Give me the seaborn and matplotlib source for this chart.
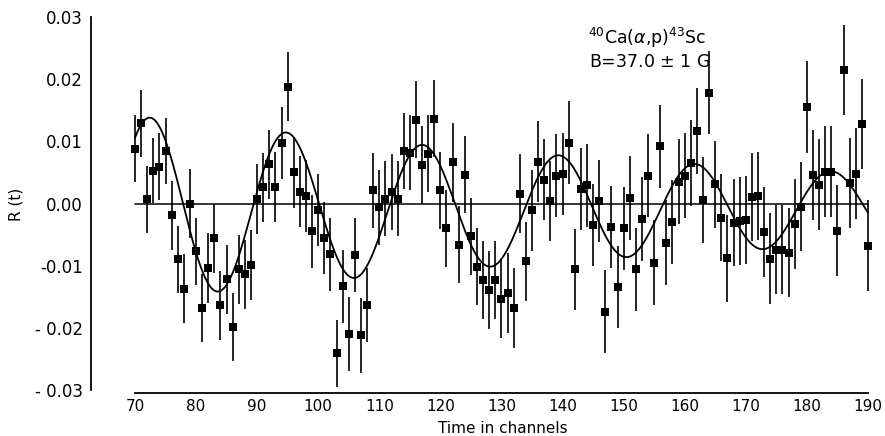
import numpy as np
import pandas as pd
import matplotlib
matplotlib.use("Agg")
import matplotlib.pyplot as plt
import seaborn as sns

# data
channels = list(range(70, 191))
r_values = [
    0.0088, 0.0129, 0.0007, 0.0053, 0.0059, 0.0084, -0.0019, -0.0090, -0.0137, 0.0000,
    -0.0077, -0.0168, -0.0104, -0.0056, -0.0164, -0.0122, -0.0199, -0.0106, -0.0114, -0.0099,
    0.0007, 0.0026, 0.0063, 0.0027, 0.0097, 0.0188, 0.0050, 0.0019, 0.0012, -0.0045,
    -0.0010, -0.0055, -0.0082, -0.0241, -0.0133, -0.0210, -0.0083, -0.0212, -0.0163, 0.0021,
    -0.0006, 0.0008, 0.0018, 0.0008, 0.0084, 0.0082, 0.0135, 0.0062, 0.0080, 0.0136,
    0.0021, -0.0040, 0.0066, -0.0066, 0.0046, -0.0053, -0.0102, -0.0123, -0.0139, -0.0123,
    -0.0153, -0.0144, -0.0168, 0.0016, -0.0093, -0.0011, 0.0067, 0.0038, 0.0004, 0.0045,
    0.0048, 0.0098, -0.0106, 0.0023, 0.0029, -0.0035, 0.0004, -0.0174, -0.0038, -0.0134,
    -0.0040, 0.0009, -0.0106, -0.0025, 0.0045, -0.0095, 0.0092, -0.0063, -0.0030, 0.0035,
    0.0045, 0.0065, 0.0117, 0.0006, 0.0178, 0.0031, -0.0023, -0.0088, -0.0031, -0.0028,
    -0.0026, 0.0011, 0.0012, -0.0046, -0.0089, -0.0074, -0.0074, -0.0079, -0.0033, -0.0005,
    0.0156, 0.0046, 0.0030, 0.0051, 0.0051, -0.0044, 0.0215, 0.0033, 0.0048, 0.0128, -0.0068,
]
r_errors = [
    0.0054, 0.0054, 0.0054, 0.0052, 0.0054, 0.0053, 0.0055, 0.0054, 0.0055, 0.0055,
    0.0054, 0.0054, 0.0056, 0.0056, 0.0055, 0.0056, 0.0055, 0.0056, 0.0056, 0.0056,
    0.0056, 0.0056, 0.0056, 0.0056, 0.0058, 0.0056, 0.0057, 0.0057, 0.0058, 0.0058,
    0.0058, 0.0058, 0.0059, 0.0054, 0.0059, 0.0060, 0.0060, 0.0060, 0.0060, 0.0060,
    0.0060, 0.0061, 0.0061, 0.0061, 0.0061, 0.0061, 0.0062, 0.0062, 0.0062, 0.0062,
    0.0062, 0.0062, 0.0063, 0.0062, 0.0062, 0.0062, 0.0062, 0.0062, 0.0063, 0.0063,
    0.0063, 0.0064, 0.0064, 0.0064, 0.0064, 0.0065, 0.0065, 0.0065, 0.0065, 0.0066,
    0.0066, 0.0067, 0.0065, 0.0066, 0.0066, 0.0066, 0.0066, 0.0067, 0.0066, 0.0066,
    0.0067, 0.0067, 0.0067, 0.0067, 0.0067, 0.0068, 0.0067, 0.0068, 0.0068, 0.0068,
    0.0069, 0.0069, 0.0069, 0.0069, 0.0067, 0.0070, 0.0070, 0.0070, 0.0070, 0.0071,
    0.0071, 0.0071, 0.0071, 0.0072, 0.0073, 0.0072, 0.0072, 0.0072, 0.0072, 0.0072,
    0.0074, 0.0073, 0.0073, 0.0073, 0.0073, 0.0073, 0.0072, 0.0073, 0.0073, 0.0073, 0.0073,
]

# fitted damped oscillation, parameters
fit_amplitude = 0.0149
fit_tau = 125.0
fit_period = 22.3
fit_peak = 72.5
fit_offset = -0.0008

df = pd.DataFrame({"channel": channels, "R": r_values, "err": r_errors})
t_fit = np.linspace(70, 190, 600)
fit = pd.DataFrame({
    "channel": t_fit,
    "R": fit_offset + fit_amplitude * np.exp(-(t_fit - 70) / fit_tau)
    * np.cos(2 * np.pi * (t_fit - fit_peak) / fit_period),
})

sns.set_style("white")
plt.rcParams["font.family"] = ["DejaVu Sans"]
plt.rcParams["text.color"] = "black"
plt.rcParams["axes.labelcolor"] = "black"
plt.rcParams["xtick.color"] = "black"
plt.rcParams["ytick.color"] = "black"

fig = plt.figure(figsize=(8.85, 4.36), dpi=100)
ax = fig.add_axes([91 / 885, 1 - 393 / 436, (871 - 91) / 885, (393 - 15) / 436])

ax.errorbar(df["channel"], df["R"], yerr=df["err"], fmt="none",
            ecolor="black", elinewidth=1.2, capsize=0, clip_on=False)
sns.scatterplot(data=df, x="channel", y="R", marker="s", s=34, color="black",
                edgecolor="black", linewidth=0, ax=ax, clip_on=False, zorder=3)
sns.lineplot(data=fit, x="channel", y="R", color="black", linewidth=1.3, ax=ax)
ax.plot([70, 190], [0, 0], color="black", linewidth=1.1)

ax.set_xlim(62.8, 190.5)
ax.set_ylim(-0.03048, 0.03032)

for side in ["top", "right"]:
    ax.spines[side].set_visible(False)
ax.spines["left"].set_bounds(-0.03, 0.03)
ax.spines["bottom"].set_bounds(70, 190)
for side in ["left", "bottom"]:
    ax.spines[side].set_linewidth(1.3)
    ax.spines[side].set_color("black")

ax.set_xticks(range(70, 191, 10))
ax.set_xticklabels([str(v) for v in range(70, 191, 10)], fontsize=11)
ax.set_yticks([0.03, 0.02, 0.01, 0.0, -0.01, -0.02, -0.03])
ax.set_yticklabels(["0.03", "0.02", "0.01", "0.00", "-0.01", "- 0.02", "- 0.03"], fontsize=12)
ax.tick_params(axis="both", direction="in", length=7, width=1.3, color="black")
ax.tick_params(axis="x", pad=4)
ax.tick_params(axis="y", pad=6)

ax.set_xlabel("Time in channels", fontsize=11, labelpad=4)
ax.xaxis.set_label_coords((503 - 91) / 780, -0.075)
ax.set_ylabel("R (t)", fontsize=11, labelpad=8)

ax.text(144.1, 0.0267, r"$^{40}$Ca($\alpha$,p)$^{43}$Sc", fontsize=12.5, va="center")
ax.text(144.3, 0.0228, "B=37.0 $\\pm$ 1 G", fontsize=12.5, va="center")

fig.savefig("out.png", dpi=100)
